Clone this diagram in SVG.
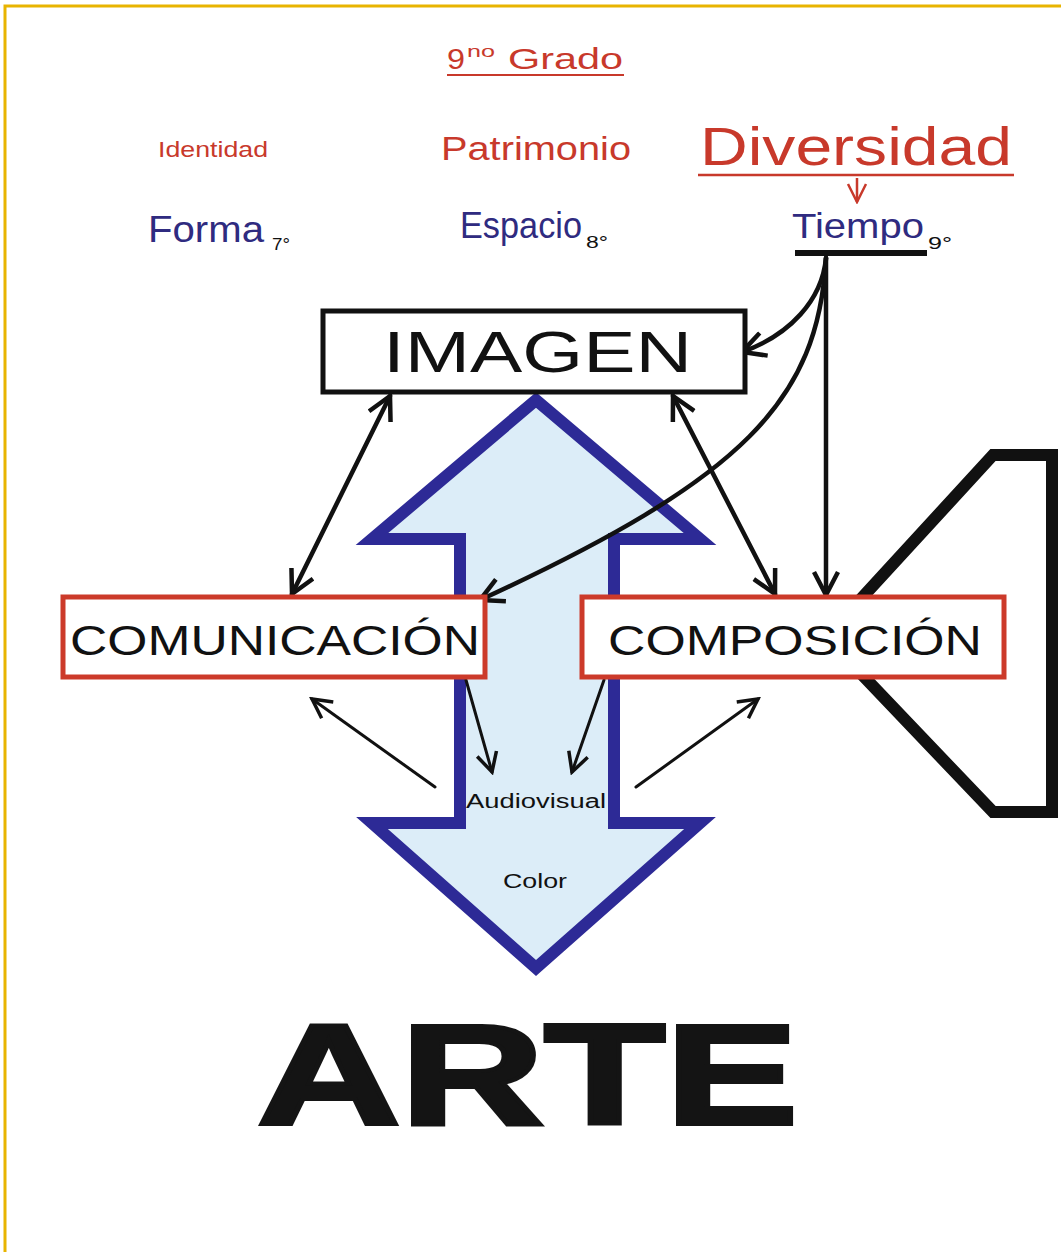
<svg xmlns="http://www.w3.org/2000/svg" width="1061" height="1252" viewBox="0 0 1061 1252">
<style>
.red{fill:#c8392b;font-family:"Liberation Sans",Arial,sans-serif}
.blue{fill:#2f2b80;font-family:"Liberation Sans",Arial,sans-serif}
.blk{fill:#111;font-family:"Liberation Sans",Arial,sans-serif}
.con{fill:none;stroke:#111;stroke-width:4.5;stroke-linecap:round}
.thin{fill:none;stroke:#111;stroke-width:3;stroke-linecap:round}
.rbox{fill:#fff;stroke:#cc3a2a;stroke-width:5}
</style>
<defs>
<marker id="ah" viewBox="0 0 28 28" refX="25" refY="14" markerWidth="28" markerHeight="28" markerUnits="userSpaceOnUse" orient="auto-start-reverse">
<path d="M2,2 L25,14 L2,26" fill="none" stroke="#111" stroke-width="4.5"/>
</marker>
<marker id="ahs" viewBox="0 0 24 24" refX="21" refY="12" markerWidth="24" markerHeight="24" markerUnits="userSpaceOnUse" orient="auto">
<path d="M2,2 L21,12 L2,22" fill="none" stroke="#111" stroke-width="3.5"/>
</marker>
<marker id="ahr" viewBox="0 0 22 22" refX="20" refY="11" markerWidth="22" markerHeight="22" markerUnits="userSpaceOnUse" orient="auto">
<path d="M2,2 L20,11 L2,20" fill="none" stroke="#c8392b" stroke-width="2.5"/>
</marker>
</defs>
<rect width="1061" height="1252" fill="#fff"/>
<path d="M5,1252 V6 H1061" fill="none" stroke="#e8b400" stroke-width="3"/>

<g id="titles">
<text class="red" x="447" y="69" font-size="29" textLength="18" lengthAdjust="spacingAndGlyphs">9</text>
<text class="red" x="467" y="57" font-size="17" textLength="28" lengthAdjust="spacingAndGlyphs">no</text>
<text class="red" x="508" y="69" font-size="29" textLength="115" lengthAdjust="spacingAndGlyphs">Grado</text>
<line x1="447" y1="75" x2="624" y2="75" stroke="#c8392b" stroke-width="2"/>
<text class="red" x="158" y="157" font-size="22" textLength="110" lengthAdjust="spacingAndGlyphs">Identidad</text>
<text class="red" x="441" y="160" font-size="34" textLength="190" lengthAdjust="spacingAndGlyphs">Patrimonio</text>
<text class="red" x="700" y="165" font-size="53" textLength="312" lengthAdjust="spacingAndGlyphs">Diversidad</text>
<line x1="698" y1="175" x2="1014" y2="175" stroke="#c8392b" stroke-width="2.5"/>
<line x1="857" y1="178" x2="857" y2="202" stroke="#c8392b" stroke-width="2.5" marker-end="url(#ahr)"/>
<text class="blue" x="148" y="242" font-size="37" textLength="116" lengthAdjust="spacingAndGlyphs">Forma</text>
<text class="blk" x="272" y="250" font-size="17" textLength="18" lengthAdjust="spacingAndGlyphs">7°</text>
<text class="blue" x="460" y="238" font-size="36" textLength="122" lengthAdjust="spacingAndGlyphs">Espacio</text>
<text class="blk" x="586" y="248" font-size="17" textLength="22" lengthAdjust="spacingAndGlyphs">8°</text>
<text class="blue" x="792" y="238" font-size="35" textLength="132" lengthAdjust="spacingAndGlyphs">Tiempo</text>
<text class="blk" x="928" y="249" font-size="17" textLength="24" lengthAdjust="spacingAndGlyphs">9°</text>
<rect x="795" y="250" width="132" height="6" fill="#111"/>
</g>

<g id="bigarrow">
<polygon points="536,400 700,539 614,539 614,823 700,823 536,968 372,823 460,823 460,539 372,539" fill="#dcedf8" stroke="#2d2a96" stroke-width="12" stroke-linejoin="miter"/>
<text class="blk" x="466" y="808" font-size="20" textLength="140" lengthAdjust="spacingAndGlyphs">Audiovisual</text>
<text class="blk" x="503" y="888" font-size="20" textLength="64" lengthAdjust="spacingAndGlyphs">Color</text>
</g>

<g id="bracket">
<polygon points="993,455 1052,455 1052,812 993,812 826,637" fill="none" stroke="#111" stroke-width="12" stroke-linejoin="miter"/>
</g>

<g id="connectors">
<line class="con" x1="390" y1="396" x2="292" y2="594" marker-start="url(#ah)" marker-end="url(#ah)"/>
<line class="con" x1="673" y1="396" x2="775" y2="594" marker-start="url(#ah)" marker-end="url(#ah)"/>
<path class="con" d="M826,258 C822,300 790,335 742,352" marker-end="url(#ah)"/>
<path class="con" d="M826,258 C818,400 745,478 480,600" marker-end="url(#ah)"/>
<line class="con" x1="826" y1="258" x2="826" y2="595" stroke-width="3.5" marker-end="url(#ah)"/>
<line class="thin" x1="466" y1="680" x2="492" y2="772" marker-end="url(#ahs)"/>
<line class="thin" x1="604" y1="680" x2="572" y2="772" marker-end="url(#ahs)"/>
<line class="thin" x1="435" y1="787" x2="312" y2="699" marker-end="url(#ahs)"/>
<line class="thin" x1="636" y1="787" x2="758" y2="699" marker-end="url(#ahs)"/>
</g>

<g id="imagen">
<rect x="323" y="311" width="422" height="81" fill="#fff" stroke="#111" stroke-width="5"/>
<text class="blk" x="383" y="372" font-size="58" textLength="309" lengthAdjust="spacingAndGlyphs">IMAGEN</text>
</g>

<g id="comunicacion">
<rect class="rbox" x="63" y="597" width="422" height="80"/>
<text class="blk" x="70" y="655" font-size="42" textLength="410" lengthAdjust="spacingAndGlyphs">COMUNICACIÓN</text>
</g>

<g id="composicion">
<rect class="rbox" x="582" y="597" width="422" height="80"/>
<text class="blk" x="608" y="655" font-size="42" textLength="374" lengthAdjust="spacingAndGlyphs">COMPOSICIÓN</text>
</g>

<g id="arte">
<text x="257" y="1124" font-size="143" font-weight="bold" fill="#141414" stroke="#141414" stroke-width="4" stroke-linejoin="miter" font-family="'Liberation Sans',Arial,sans-serif" textLength="541" lengthAdjust="spacingAndGlyphs">ARTE</text>
</g>
</svg>
